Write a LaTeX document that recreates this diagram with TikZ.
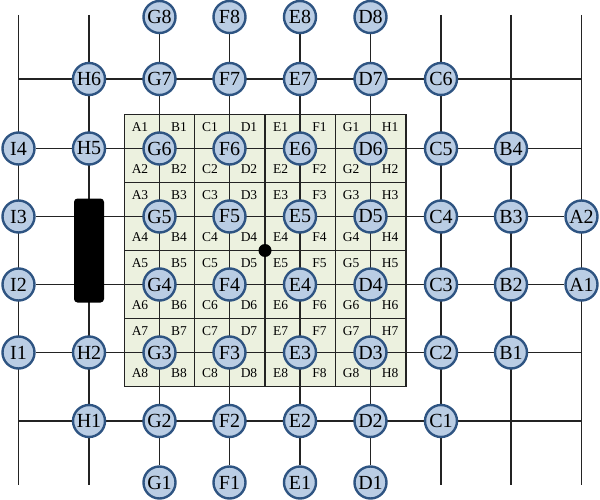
\documentclass[tikz,border=0pt]{standalone}
\usepackage{fontspec}
\setmainfont{Liberation Serif}
\usetikzlibrary{backgrounds}
\definecolor{myBlue}{RGB}{186,205,228}
\definecolor{myNavy}{RGB}{46,84,130}
\definecolor{myGreen}{RGB}{236,241,223}
\definecolor{myGray}{RGB}{35,35,35}
\tikzset{
	pad/.style={circle,fill=myBlue,draw=myNavy,line width=2.4pt,minimum size=32pt,inner sep=0pt,font=\fontsize{20}{20}\selectfont},
	tag/.style={inner sep=0pt,font=\fontsize{13.5}{13.5}\selectfont},
	wire/.style={myGray,line width=1.3pt}
}
\begin{document}
\begin{tikzpicture}[x=1pt,y=-1pt]
		\useasboundingbox (0,0) rectangle (600,500);
		% free ends of the outer lines
		\coordinate (Itop) at (18.5,15);
		\coordinate (Ibot) at (18.5,485);
		\coordinate (Htop) at (89,15);
		\coordinate (Hbot) at (89,485);
		\coordinate (Ctop) at (441,15);
		\coordinate (Cbot) at (441,485);
		\coordinate (Btop) at (511,15);
		\coordinate (Bbot) at (511,485);
		\coordinate (Atop) at (581.5,15);
		\coordinate (Abot) at (581.5,485);
		\coordinate (NW) at (18.5,79);
		\coordinate (NE) at (581.5,79);
		\coordinate (SW) at (18.5,421);
		\coordinate (SE) at (581.5,421);
		\coordinate (Ar6) at (581.5,148.5);
		\coordinate (Ar3) at (581.5,352.5);
		
		\begin{scope}[every node/.style={pad}]
			\node (G8) at (159.5,17) {G8};
			\node (F8) at (229.5,17) {F8};
			\node (E8) at (300,17) {E8};
			\node (D8) at (370.5,17) {D8};
			
			\node (H6) at (89,79) {H6};
			\node (G7) at (159.5,79) {G7};
			\node (F7) at (229.5,79) {F7};
			\node (E7) at (300,79) {E7};
			\node (D7) at (370.5,79) {D7};
			\node (C6) at (441,79) {C6};
			
			\node (I4) at (18.5,148.5) {I4};
			\node (H5) at (89,148.5) {H5};
			\node (G6) at (159.5,148.5) {G6};
			\node (F6) at (229.5,148.5) {F6};
			\node (E6) at (300,148.5) {E6};
			\node (D6) at (370.5,148.5) {D6};
			\node (C5) at (441,148.5) {C5};
			\node (B4) at (511,148.5) {B4};
			
			\node (I3) at (18.5,216.5) {I3};
			\node (G5) at (159.5,216.5) {G5};
			\node (F5) at (229.5,216.5) {F5};
			\node (E5) at (300,216.5) {E5};
			\node (D5) at (370.5,216.5) {D5};
			\node (C4) at (441,216.5) {C4};
			\node (B3) at (511,216.5) {B3};
			\node (A2) at (581.5,216.5) {A2};
			
			\node (I2) at (18.5,284.5) {I2};
			\node (G4) at (159.5,284.5) {G4};
			\node (F4) at (229.5,284.5) {F4};
			\node (E4) at (300,284.5) {E4};
			\node (D4) at (370.5,284.5) {D4};
			\node (C3) at (441,284.5) {C3};
			\node (B2) at (511,284.5) {B2};
			\node (A1) at (581.5,284.5) {A1};
			
			\node (I1) at (18.5,352.5) {I1};
			\node (H2) at (89,352.5) {H2};
			\node (G3) at (159.5,352.5) {G3};
			\node (F3) at (229.5,352.5) {F3};
			\node (E3) at (300,352.5) {E3};
			\node (D3) at (370.5,352.5) {D3};
			\node (C2) at (441,352.5) {C2};
			\node (B1) at (511,352.5) {B1};
			
			\node (H1) at (89,421) {H1};
			\node (G2) at (159.5,421) {G2};
			\node (F2) at (229.5,421) {F2};
			\node (E2) at (300,421) {E2};
			\node (D2) at (370.5,421) {D2};
			\node (C1) at (441,421) {C1};
			
			\node (G1) at (159.5,482.5) {G1};
			\node (F1) at (229.5,482.5) {F1};
			\node (E1) at (300,482.5) {E1};
			\node (D1) at (370.5,482.5) {D1};
		\end{scope}
		
		\node[fill=black,rounded corners=3.5pt,minimum width=30pt,minimum height=104pt,inner sep=0pt] (blk) at (89,250.5) {};
		\node[circle,fill=black,minimum size=13pt,inner sep=0pt] (hub) at (265,250.5) {};
		
		\begin{scope}[on background layer]
			\draw[wire,fill=myGreen] (124.5,114.5) rectangle (406,386.5);
			\draw[wire] (194.5,114.5) -- (194.5,386.5);
			\draw[wire] (265,114.5) -- (265,386.5);
			\draw[wire] (335.5,114.5) -- (335.5,386.5);
			\draw[wire] (124.5,182.5) -- (406,182.5);
			\draw[wire] (124.5,250.5) -- (406,250.5);
			\draw[wire] (124.5,318.5) -- (406,318.5);
			
			\draw[wire] (Itop) -- (I4.center) -- (I1.center) -- (Ibot);
			\draw[wire] (Htop) -- (H6.center) -- (H1.center) -- (Hbot);
			\draw[wire] (G8) -- (G1);
			\draw[wire] (F8) -- (F1);
			\draw[wire] (E8) -- (E1);
			\draw[wire] (D8) -- (D1);
			\draw[wire] (Ctop) -- (C6.center) -- (C1.center) -- (Cbot);
			\draw[wire] (Btop) -- (B4.center) -- (B1.center) -- (Bbot);
			\draw[wire] (Atop) -- (A2.center) -- (A1.center) -- (Abot);
			
			\draw[wire] (NW) -- (H6.center) -- (C6.center) -- (NE);
			\draw[wire] (I4) -- (Ar6);
			\draw[wire] (I3) -- (A2);
			\draw[wire] (I2) -- (A1);
			\draw[wire] (I1) -- (Ar3);
			\draw[wire] (SW) -- (H1.center) -- (C1.center) -- (SE);
		\end{scope}
		
		% labels in the cells
		\begin{scope}[every node/.style={tag}]
			\node (tA1) at (140,127.5) {A1}; \node (tB1) at (179,127.5) {B1}; \node (tC1) at (210,127.5) {C1}; \node (tD1) at (249,127.5) {D1};
			\node (tE1) at (280.5,127.5) {E1}; \node (tF1) at (319.5,127.5) {F1}; \node (tG1) at (351,127.5) {G1}; \node (tH1) at (390,127.5) {H1};
			\node (tA2) at (140,169.5) {A2}; \node (tB2) at (179,169.5) {B2}; \node (tC2) at (210,169.5) {C2}; \node (tD2) at (249,169.5) {D2};
			\node (tE2) at (280.5,169.5) {E2}; \node (tF2) at (319.5,169.5) {F2}; \node (tG2) at (351,169.5) {G2}; \node (tH2) at (390,169.5) {H2};
			\node (tA3) at (140,195.5) {A3}; \node (tB3) at (179,195.5) {B3}; \node (tC3) at (210,195.5) {C3}; \node (tD3) at (249,195.5) {D3};
			\node (tE3) at (280.5,195.5) {E3}; \node (tF3) at (319.5,195.5) {F3}; \node (tG3) at (351,195.5) {G3}; \node (tH3) at (390,195.5) {H3};
			\node (tA4) at (140,237.5) {A4}; \node (tB4) at (179,237.5) {B4}; \node (tC4) at (210,237.5) {C4}; \node (tD4) at (249,237.5) {D4};
			\node (tE4) at (280.5,237.5) {E4}; \node (tF4) at (319.5,237.5) {F4}; \node (tG4) at (351,237.5) {G4}; \node (tH4) at (390,237.5) {H4};
			\node (tA5) at (140,263.5) {A5}; \node (tB5) at (179,263.5) {B5}; \node (tC5) at (210,263.5) {C5}; \node (tD5) at (249,263.5) {D5};
			\node (tE5) at (280.5,263.5) {E5}; \node (tF5) at (319.5,263.5) {F5}; \node (tG5) at (351,263.5) {G5}; \node (tH5) at (390,263.5) {H5};
			\node (tA6) at (140,305.5) {A6}; \node (tB6) at (179,305.5) {B6}; \node (tC6) at (210,305.5) {C6}; \node (tD6) at (249,305.5) {D6};
			\node (tE6) at (280.5,305.5) {E6}; \node (tF6) at (319.5,305.5) {F6}; \node (tG6) at (351,305.5) {G6}; \node (tH6) at (390,305.5) {H6};
			\node (tA7) at (140,331.5) {A7}; \node (tB7) at (179,331.5) {B7}; \node (tC7) at (210,331.5) {C7}; \node (tD7) at (249,331.5) {D7};
			\node (tE7) at (280.5,331.5) {E7}; \node (tF7) at (319.5,331.5) {F7}; \node (tG7) at (351,331.5) {G7}; \node (tH7) at (390,331.5) {H7};
			\node (tA8) at (140,373.5) {A8}; \node (tB8) at (179,373.5) {B8}; \node (tC8) at (210,373.5) {C8}; \node (tD8) at (249,373.5) {D8};
			\node (tE8) at (280.5,373.5) {E8}; \node (tF8) at (319.5,373.5) {F8}; \node (tG8) at (351,373.5) {G8}; \node (tH8) at (390,373.5) {H8};
		\end{scope}
\end{tikzpicture}
\end{document}
